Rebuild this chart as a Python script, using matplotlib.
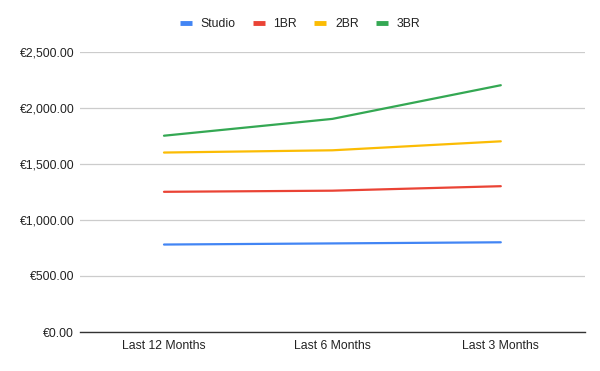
import matplotlib.pyplot as plt
from matplotlib.ticker import FuncFormatter

periods = ['Last 12 Months', 'Last 6 Months', 'Last 3 Months']
studio = [780, 790, 800]
one_br = [1250, 1260, 1300]
two_br = [1600, 1620, 1700]
three_br = [1750, 1900, 2200]

series = [
    ('Studio', studio, '#4285F4'),
    ('1BR', one_br, '#EA4335'),
    ('2BR', two_br, '#FBBC04'),
    ('3BR', three_br, '#34A853'),
]

plt.rcParams['font.family'] = ['Liberation Sans', 'DejaVu Sans']

fig = plt.figure(figsize=(6, 3.71), dpi=100)
ax = fig.add_axes([0.133, 0.105, 0.842, 0.756])

x = list(range(len(periods)))
for name, vals, color in series:
    ax.plot(x, vals, color=color, lw=1.6, label=name, solid_capstyle='round')

ax.set_xlim(-0.5, len(periods) - 0.5)
ax.set_ylim(0, 2500)
ax.set_yticks(range(0, 2501, 500))
ax.yaxis.set_major_formatter(FuncFormatter(lambda v, p: '€{:,.2f}'.format(v)))
ax.set_xticks(x)
ax.set_xticklabels(periods)

ax.grid(axis='y', color='#cccccc', lw=0.9)
ax.set_axisbelow(True)
for side in ['top', 'right', 'left']:
    ax.spines[side].set_visible(False)
ax.spines['bottom'].set_color('#333333')
ax.spines['bottom'].set_linewidth(1.0)
ax.spines['bottom'].set_zorder(3)
ax.tick_params(axis='both', length=0, labelsize=8.8, colors='#222222')
ax.tick_params(axis='y', pad=4)
ax.tick_params(axis='x', pad=6)

leg = fig.legend(loc='center', bbox_to_anchor=(0.5, 0.935), ncol=4, frameon=False,
                 fontsize=8.8, handlelength=1.0, handletextpad=0.7, columnspacing=1.4)
for h in leg.get_lines():
    h.set_linewidth(3.5)
    h.set_solid_capstyle('butt')
for t in leg.get_texts():
    t.set_color('#222222')

fig.savefig('out.png', dpi=100)
